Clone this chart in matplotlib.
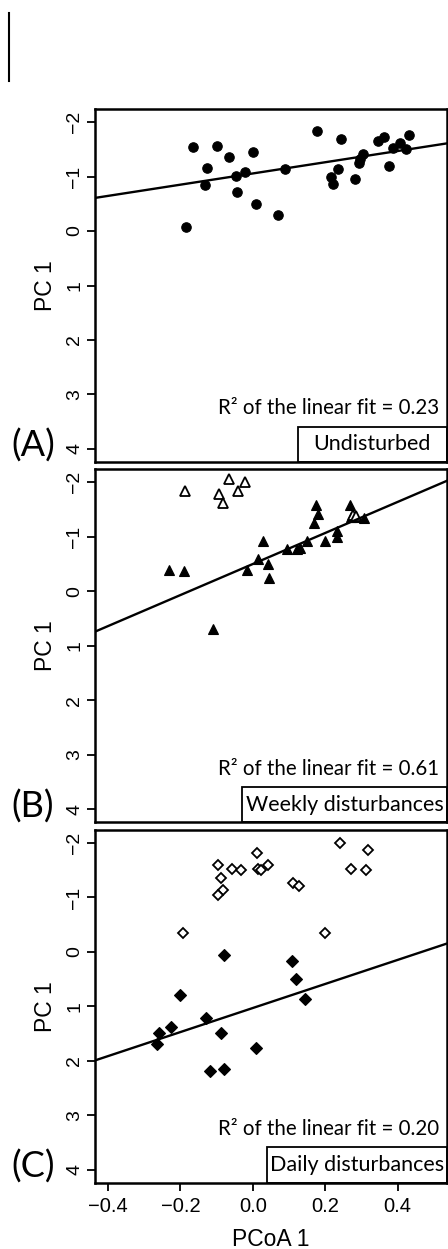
import matplotlib
matplotlib.use("Agg")
import matplotlib.pyplot as plt
from matplotlib.patches import Rectangle
from matplotlib.lines import Line2D

# ---------------- data ----------------
A_x = [-0.184, -0.166, -0.098, -0.127, -0.132, -0.065, 0.001, -0.048, -0.023, -0.044,
       0.009, 0.068, 0.089, 0.176, 0.243, 0.216, 0.222, 0.235, 0.281, 0.292,
       0.296, 0.303, 0.346, 0.362, 0.375, 0.387, 0.405, 0.422, 0.430]
A_y = [-0.07, -1.54, -1.56, -1.16, -0.85, -1.36, -1.45, -1.01, -1.09, -0.71,
       -0.50, -0.30, -1.14, -1.83, -1.69, -1.00, -0.87, -1.13, -0.96, -1.24,
       -1.33, -1.42, -1.65, -1.73, -1.19, -1.52, -1.61, -1.50, -1.76]

B_x = [-0.233, -0.191, -0.111, -0.016, 0.013, 0.027, 0.042, 0.045, 0.093, 0.123, 0.130,
       0.150, 0.168, 0.175, 0.180, 0.199, 0.231, 0.233, 0.267, 0.272, 0.285, 0.306]
B_y = [-0.39, -0.37, 0.70, -0.39, -0.60, -0.93, -0.50, -0.24, -0.78, -0.78, -0.80,
       -0.93, -1.25, -1.58, -1.42, -0.93, -1.10, -0.99, -1.58, -1.36, -1.37, -1.34]
B_open_x = [-0.188, -0.093, -0.083, -0.066, -0.041, -0.021, 0.276, 0.285]
B_open_y = [-1.84, -1.79, -1.62, -2.07, -1.84, -2.00, -1.41, -1.38]

C_x = [-0.081, 0.108, 0.119, 0.144, -0.200, -0.129, -0.227, -0.260, -0.266,
       -0.088, 0.008, -0.119, -0.081]
C_y = [0.05, 0.17, 0.49, 0.86, 0.79, 1.22, 1.38, 1.49, 1.70, 1.49, 1.76, 2.19, 2.15]
C_open_x = [-0.194, -0.097, -0.089, -0.083, -0.096, -0.059, -0.033, 0.012, 0.014,
            0.022, 0.043, 0.111, 0.128, 0.198, 0.241, 0.272, 0.311, 0.319]
C_open_y = [-0.34, -1.60, -1.35, -1.13, -1.04, -1.53, -1.50, -1.81, -1.53,
            -1.50, -1.59, -1.26, -1.22, -0.34, -2.00, -1.53, -1.51, -1.88]

# fitted lines (intercept, slope)
fit_intercepts = [-1.057, -0.502, 1.03]
fit_slopes = [-1.03, -2.85, -2.21]
r2_values = ["0.23", "0.61", "0.20"]
panel_labels = ["(A)", "(B)", "(C)"]
treatments = ["Undisturbed", "Weekly disturbances", "Daily disturbances"]
box_left = [0.576, 0.418, 0.488]

x_ticks = [-0.4, -0.2, 0.0, 0.2, 0.4]
x_ticklabels = ["\u22120.4", "\u22120.2", "0.0", "0.2", "0.4"]
y_ticks = [-2, -1, 0, 1, 2, 3, 4]
y_ticklabels = ["\u22122", "\u22121", "0", "1", "2", "3", "4"]

# ---------------- figure ----------------
W, H = 448, 1249
fig = plt.figure(figsize=(W / 100, H / 100), dpi=100)
tick_font = "Liberation Sans"
text_font = "Lato"

panels = [(109, 462), (469.3, 822.3), (830, 1182.7)]
left_px, right_px = 95, 447

series = [
    dict(fx=A_x, fy=A_y, marker="o", ms=6.8, ox=None, oy=None),
    dict(fx=B_x, fy=B_y, marker="^", ms=7.8, ox=B_open_x, oy=B_open_y),
    dict(fx=C_x, fy=C_y, marker="D", ms=6.2, ox=C_open_x, oy=C_open_y),
]

for i, (top, bot) in enumerate(panels):
    ax = fig.add_axes([left_px / W, 1 - bot / H, (right_px - left_px) / W, (bot - top) / H])
    s = series[i]
    ax.plot(s["fx"], s["fy"], linestyle="none", marker=s["marker"], ms=s["ms"],
            mfc="black", mec="black", mew=0.8)
    if s["ox"] is not None:
        ax.plot(s["ox"], s["oy"], linestyle="none", marker=s["marker"],
                ms=s["ms"] - 0.6, mfc="white", mec="black", mew=1.3)
    ax.axline((0, fit_intercepts[i]), slope=fit_slopes[i], color="black", lw=1.7)
    ax.set_xlim(-0.436, 0.536)
    ax.set_ylim(4.24, -2.24)
    for sp in ax.spines.values():
        sp.set_linewidth(1.8)
    ax.set_yticks(y_ticks)
    ax.set_yticklabels(y_ticklabels, rotation=90, va="center", ha="right",
                       fontsize=14, family=tick_font)
    ax.tick_params(axis="y", direction="out", length=5.5, width=1.3, pad=3)
    if i < 2:
        ax.set_xticks([])
    else:
        ax.set_xticks(x_ticks)
        ax.set_xticklabels(x_ticklabels, fontsize=14.5, family=tick_font)
        ax.tick_params(axis="x", direction="out", length=5.5, width=1.3, pad=5)
        ax.set_xlabel("PCoA 1", fontsize=16.5, family=tick_font)
        ax.xaxis.set_label_coords(0.5, -0.16)
        ax.xaxis.label.set_va("center")
    ax.set_ylabel("PC 1", fontsize=16.5, family=tick_font)
    ax.yaxis.set_label_coords(-0.142, 0.5)
    ax.yaxis.label.set_va("center")

    ax.text(0.977, 0.135, "R\u00b2 of the linear fit = " + r2_values[i],
            transform=ax.transAxes, ha="right", va="baseline",
            fontsize=14.8, family=text_font)
    ax.add_patch(Rectangle((box_left[i], 0), 1 - box_left[i], 0.1,
                           transform=ax.transAxes, fill=False, ec="black",
                           lw=1.3, clip_on=False))
    ax.text((box_left[i] + 1) / 2, 0.05, treatments[i], transform=ax.transAxes,
            ha="center", va="center", fontsize=15.5, family=text_font)
    fig.text(33 / W, 1 - (bot - 16) / H, panel_labels[i], ha="center", va="center",
             fontsize=26, family=text_font)

fig.add_artist(Line2D([9 / W, 9 / W], [1 - 13 / H, 1 - 81 / H], color="black",
                      lw=1.5, transform=fig.transFigure))

fig.savefig("out.png", dpi=100)
